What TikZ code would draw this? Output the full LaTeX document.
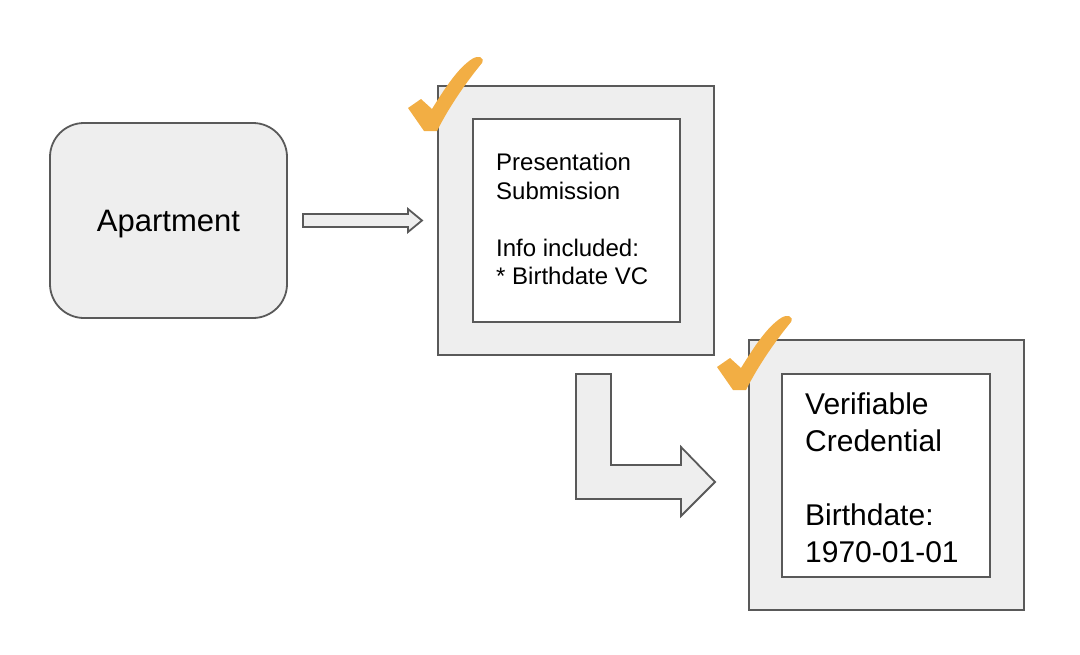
\documentclass[tikz,border=0pt]{standalone}
\usepackage{fontspec}
\setmainfont{Liberation Sans}
\definecolor{edge}{HTML}{595959}
\definecolor{boxfill}{HTML}{EEEEEE}
\definecolor{checkc}{HTML}{F2AE44}
\tikzset{
  shape frame/.style={draw=edge, line width=1.8pt, fill=boxfill, line join=miter},
  plainbox/.style={draw=edge, line width=1.8pt, fill=white, rectangle, inner sep=0pt},
  outerbox/.style={draw=edge, line width=1.8pt, fill=boxfill, rectangle, inner sep=0pt},
  txt/.style={inner sep=0pt, align=left, anchor=north west},
  checkmark/.style={fill=checkc, draw=none}
}
\begin{document}
\begin{tikzpicture}[x=1pt,y=-1pt]
\useasboundingbox (0,0) rectangle (1080,654);
% Apartment
\node[draw=edge, line width=1.8pt, fill=boxfill, rounded corners=34pt, minimum width=237pt, minimum height=195pt, inner sep=0pt, text depth=0pt, font=\fontsize{31}{36}\selectfont] (apt) at (168.5,220.5) {Apartment};
% Box 1
\node[outerbox, minimum width=276pt, minimum height=269pt] (ps) at (576,220.5) {};
\node[plainbox, minimum width=207pt, minimum height=203pt] (psin) at (576.5,220.5) {};
\node[txt, font=\fontsize{24}{28.5}\selectfont] (pstext) at (496,153.2) {Presentation\\Submission\\[28.5pt]Info included:\\* Birthdate VC};
% Box 2
\node[outerbox, minimum width=275pt, minimum height=270pt] (vc) at (886.5,475) {};
\node[plainbox, minimum width=208pt, minimum height=203pt] (vcin) at (886,475.5) {};
\node[txt, font=\fontsize{30}{37}\selectfont] (vctext) at (805,392.8) {Verifiable\\Credential\\[37pt]Birthdate:\\1970-01-01};
% small arrow
\draw[shape frame] (303,214) -- (408,214) -- (408,209) -- (422,220.5) -- (408,232) -- (408,227) -- (303,227) -- cycle;
% bent arrow
\draw[shape frame] (576,374) -- (611,374) -- (611,465) -- (681,465) -- (681,447) -- (715,482) -- (681,516) -- (681,499) -- (576,499) -- cycle;
% checkmarks
\fill[checkmark] (408,108) -- (421,99) -- (432,109) .. controls (445,88) and (458,68) .. (472,59) .. controls (478,55) and (485,57) .. (482,63) .. controls (468,80) and (450,105) .. (437,131) -- (424,131) -- cycle;
\begin{scope}[shift={(309,259)}]
\fill[checkmark] (408,108) -- (421,99) -- (432,109) .. controls (445,88) and (458,68) .. (472,59) .. controls (478,55) and (485,57) .. (482,63) .. controls (468,80) and (450,105) .. (437,131) -- (424,131) -- cycle;
\end{scope}
\end{tikzpicture}
\end{document}
